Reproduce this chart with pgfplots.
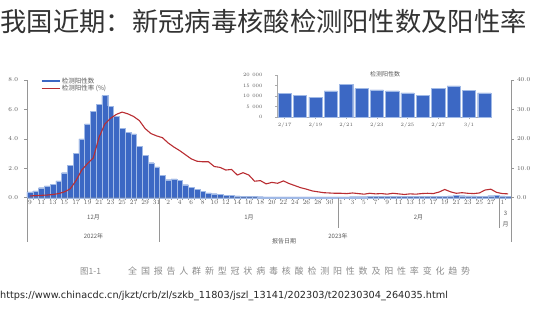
\documentclass[border=0pt]{standalone}
\usepackage{pgfplots}
\pgfplotsset{compat=1.18}
\usepackage{fontspec}
\newfontfamily\cjk{Noto Sans CJK SC}
\newfontfamily\urlfont{DejaVu Sans}
\definecolor{barblue}{RGB}{60,104,196}
\definecolor{baredge}{RGB}{160,185,230}
\definecolor{linered}{RGB}{185,45,50}
\definecolor{axgray}{RGB}{150,150,150}
\definecolor{txtgray}{RGB}{90,90,90}
\pgfplotstableread{
x y
0.5 0.39
1.5 0.47
2.5 0.68
3.5 0.80
4.5 0.93
5.5 1.15
6.5 1.70
7.5 2.22
8.5 3.02
9.5 4.00
10.5 5.02
11.5 5.85
12.5 6.35
13.5 6.94
14.5 6.22
15.5 5.55
16.5 4.72
17.5 4.45
18.5 4.33
19.5 3.47
20.5 2.86
21.5 2.38
22.5 2.10
23.5 1.54
24.5 1.22
25.5 1.28
26.5 1.18
27.5 0.88
28.5 0.72
29.5 0.58
30.5 0.42
31.5 0.33
32.5 0.27
33.5 0.21
34.5 0.18
35.5 0.15
36.5 0.12
37.5 0.10
38.5 0.09
39.5 0.08
40.5 0.07
41.5 0.06
42.5 0.06
43.5 0.05
44.5 0.05
45.5 0.05
46.5 0.05
47.5 0.05
48.5 0.05
49.5 0.05
50.5 0.05
51.5 0.05
52.5 0.05
53.5 0.05
54.5 0.06
55.5 0.06
56.5 0.07
57.5 0.07
58.5 0.07
59.5 0.08
60.5 0.08
61.5 0.08
62.5 0.09
63.5 0.09
64.5 0.09
65.5 0.10
66.5 0.10
67.5 0.10
68.5 0.10
69.5 0.11
70.5 0.113
71.5 0.104
72.5 0.095
73.5 0.124
74.5 0.154
75.5 0.135
76.5 0.129
77.5 0.124
78.5 0.115
79.5 0.102
80.5 0.137
81.5 0.148
82.5 0.126
83.5 0.115
}\bars
\pgfplotstableread{
x y
0.5 0.6
1.5 0.7
2.5 0.8
3.5 0.9
4.5 1.1
5.5 1.4
6.5 2.0
7.5 3.0
8.5 5.8
9.5 9.4
10.5 11.6
11.5 13.5
12.5 20.5
13.5 25.0
14.5 27.0
15.5 28.3
16.5 29.1
17.5 28.5
18.5 27.6
19.5 26.2
20.5 23.5
21.5 21.8
22.5 21.0
23.5 20.4
24.5 18.6
25.5 17.2
26.5 16.0
27.5 14.6
28.5 13.2
29.5 12.4
30.5 12.2
31.5 12.2
32.5 10.6
33.5 10.3
34.5 9.4
35.5 9.6
36.5 7.7
37.5 8.5
38.5 7.7
39.5 5.6
40.5 5.8
41.5 4.7
42.5 5.2
43.5 4.9
44.5 5.7
45.5 4.8
46.5 4.1
47.5 3.4
48.5 2.9
49.5 2.3
50.5 2.0
51.5 1.7
52.5 1.6
53.5 1.5
54.5 1.5
55.5 1.4
56.5 1.6
57.5 1.4
58.5 1.2
59.5 1.5
60.5 1.3
61.5 1.4
62.5 1.2
63.5 1.5
64.5 1.3
65.5 1.1
66.5 1.3
67.5 1.2
68.5 1.4
69.5 1.5
70.5 1.4
71.5 1.9
72.5 2.8
73.5 2.0
74.5 1.5
75.5 1.7
76.5 1.5
77.5 1.4
78.5 1.6
79.5 2.6
80.5 2.9
81.5 1.8
82.5 1.4
83.5 1.3
}\rate
\pgfplotstableread{
x y
0 11340
1 10390
2 9450
3 12440
4 15430
5 13540
6 12910
7 12440
8 11500
9 10240
10 13700
11 14800
12 12600
13 11500
}\inset
\begin{document}
\begin{tikzpicture}
\path[use as bounding box] (0pt,0pt) rectangle (540pt,320pt);
% title
\node[anchor=west, inner sep=0pt, text=black!80] at (0.5pt,298.5pt) {\cjk\fontsize{26.3}{27}\selectfont 我国近期：新冠病毒核酸检测阳性数及阳性率};
% main left axis with bars
\begin{axis}[
  at={(27pt,122.3pt)}, anchor=south west, scale only axis,
  width=484pt, height=117.7pt,
  xmin=0, xmax=84, ymin=0, ymax=8,
  axis x line*=bottom, axis y line*=left,
  axis line style={-, draw=axgray, line width=0.6pt},
  tick align=outside, major tick length=2.5pt,
  tick style={draw=axgray, line width=0.4pt},
  ytick={0,2,4,6,8},
  yticklabel={\pgfmathprintnumber[fixed,fixed zerofill,precision=1]{\tick}},
  yticklabel style={font=\fontsize{6.5}{7}\selectfont, text=txtgray, xshift=-3pt},
  xtick={0,1,...,84}, xticklabels={},
  extra x ticks={0.5,2.5,4.5,6.5,8.5,10.5,12.5,14.5,16.5,18.5,20.5,22.5,24.5,26.5,28.5,30.5,32.5,34.5,36.5,38.5,40.5,42.5,44.5,46.5,48.5,50.5,52.5,54.5,56.5,58.5,60.5,62.5,64.5,66.5,68.5,70.5,72.5,74.5,76.5,78.5,80.5,82.5},
  extra x tick labels={9,11,13,15,17,19,21,23,25,27,29,31,2,4,6,8,10,12,14,16,18,20,22,24,26,28,30,1,3,5,7,9,11,13,15,17,19,21,23,25,27,1},
  extra x tick style={major tick length=0pt, tick label style={font=\fontsize{6.5}{6.5}\selectfont, text=txtgray, inner sep=1pt, yshift=-1.5pt}},
  clip=false,
  legend style={at={(0.027,1.03)}, anchor=north west, draw=none, fill=none,
     font=\cjk\fontsize{6.5}{7}\selectfont, text=txtgray, row sep=-1.5pt, inner sep=0pt,
     nodes={inner sep=1pt}},
  legend cell align=left,
]
\addplot[ybar, bar width=1, fill=barblue, draw=baredge, line width=0.3pt,
  legend image code/.code={\draw[line width=2.6pt, barblue] (0pt,0pt) -- (18pt,0pt);}]
  table[x=x, y=y] {\bars};
\addlegendentry{检测阳性数}
\addlegendimage{legend image code/.code={\draw[linered, line width=1.1pt] (0pt,0pt) -- (18pt,0pt);}}
\addlegendentry{检测阳性率 (\%)}
% separators
\draw[axgray, line width=0.6pt] (axis cs:0,0) -- ++(0pt,-44pt);
\draw[axgray, line width=0.6pt] (axis cs:23,0) -- ++(0pt,-44pt);
\draw[axgray, line width=0.6pt] (axis cs:54,0) -- ++(0pt,-30pt);
\draw[axgray, line width=0.6pt] (axis cs:82,0) -- ++(0pt,-30pt);
\draw[axgray, line width=0.6pt] (axis cs:84,0) -- ++(0pt,-44pt);
\end{axis}
% right axis with rate
\begin{axis}[
  at={(27pt,122.3pt)}, anchor=south west, scale only axis,
  width=484pt, height=117.7pt,
  xmin=0, xmax=84, ymin=0, ymax=40,
  axis y line*=right, axis x line=none,
  axis line style={-, draw=axgray, line width=0.6pt},
  tick align=outside, major tick length=2.5pt,
  tick style={draw=axgray, line width=0.4pt},
  ytick={0,10,20,30,40},
  yticklabel={\pgfmathprintnumber[fixed,fixed zerofill,precision=1]{\tick}},
  yticklabel style={font=\fontsize{6.5}{7}\selectfont, text=txtgray},
]
\addplot[linered, line width=1.1pt, mark=none, line join=round] table[x=x, y=y] {\rate};
\end{axis}
% inset
\begin{axis}[
  at={(277pt,203pt)}, anchor=south west, scale only axis,
  width=215pt, height=42pt,
  xmin=-0.5, xmax=13.5, ymin=0, ymax=20000,
  axis x line*=bottom, axis y line*=left,
  axis line style={-, draw=axgray!80, line width=0.5pt},
  tick align=outside, major tick length=2pt,
  tick style={draw=axgray!80, line width=0.4pt},
  scaled y ticks=false,
  ytick={0,5000,10000,15000,20000},
  yticklabels={0,5 000,10 000,15 000,20 000},
  yticklabel style={font=\fontsize{5}{5}\selectfont, text=txtgray, xshift=-9pt},
  xtick={0,2,4,6,8,10,12},
  xticklabels={2/17,2/19,2/21,2/23,2/25,2/27,3/1},
  xticklabel style={font=\fontsize{5}{5}\selectfont, text=txtgray},
  clip=false,
]
\addplot[ybar, bar width=0.86, fill=barblue, draw=baredge, line width=0.4pt] table[x=x, y=y] {\inset};
\end{axis}
\node[text=txtgray, inner sep=0pt] at (385pt,246pt) {\cjk\fontsize{6}{6}\selectfont 检测阳性数};
% month / year labels
\node[text=txtgray, inner sep=0pt] at (93.5pt,103pt) {\cjk\fontsize{6}{6}\selectfont 12月};
\node[text=txtgray, inner sep=0pt] at (249pt,103pt) {\cjk\fontsize{6}{6}\selectfont 1月};
\node[text=txtgray, inner sep=0pt] at (418.5pt,103pt) {\cjk\fontsize{6}{6}\selectfont 2月};
\node[text=txtgray, inner sep=0pt] at (505.5pt,106.5pt) {\cjk\fontsize{6}{6}\selectfont 3};
\node[text=txtgray, inner sep=0pt] at (505.5pt,96pt) {\cjk\fontsize{6}{6}\selectfont 月};
\node[text=txtgray, inner sep=0pt] at (93.5pt,84pt) {\cjk\fontsize{6}{6}\selectfont 2022年};
\node[text=txtgray, inner sep=0pt] at (338pt,84pt) {\cjk\fontsize{6}{6}\selectfont 2023年};
\node[text=txtgray, inner sep=0pt] at (284pt,79pt) {\cjk\fontsize{6}{6}\selectfont 报告日期};
% caption
\node[anchor=west, text=black!45, inner sep=0pt] at (80pt,49pt) {\cjk\fontsize{8.5}{9}\selectfont 图1-1};
\node[anchor=west, text=black!45, inner sep=0pt] at (128pt,49pt) {\cjk\fontsize{9}{9}\selectfont\makebox[342pt][s]{全 国 报 告 人 群 新 型 冠 状 病 毒 核 酸 检 测 阳 性 数 及 阳 性 率 变 化 趋 势}};
% url
\node[anchor=west, text=black!85, inner sep=0pt] at (0pt,24pt) {\urlfont\fontsize{9.7}{11}\selectfont https://www.chinacdc.cn/jkzt/crb/zl/szkb\_11803/jszl\_13141/202303/t20230304\_264035.html};
\end{tikzpicture}
\end{document}
